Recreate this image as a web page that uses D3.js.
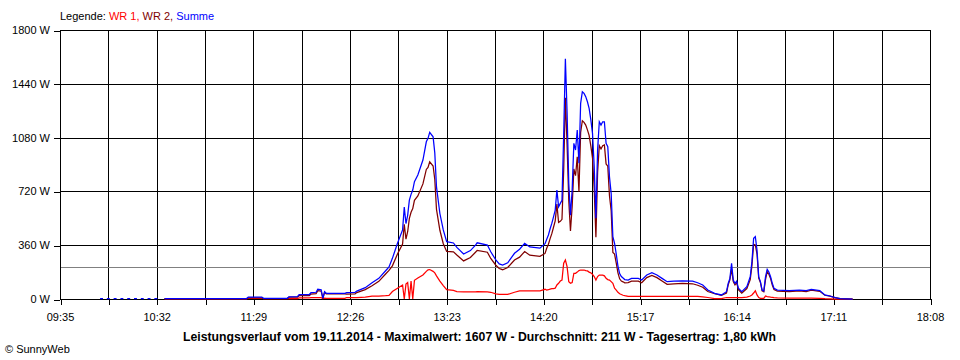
<!DOCTYPE html>
<html><head><meta charset="utf-8">
<script src="https://cdn.jsdelivr.net/npm/d3@7"></script>
<style>
body{margin:0;background:#fff}
svg{display:block}
text{font-family:"Liberation Sans",Arial,sans-serif}
</style>
</head><body>
<svg id="c" width="960" height="360"></svg>
<script>
// ---- data ----
const zeit = [
  "09:59","10:00","10:01","10:03","10:04","10:05","10:07","10:08","10:09","10:11","10:12","10:13","10:15","10:16","10:17","10:19","10:20","10:21","10:23","10:24","10:25","10:27","10:28","10:29","10:31","10:32","10:33",
  "10:37","11:25","11:26","11:34","11:35","11:49","11:50","11:55","11:56","12:02","12:03","12:06","12:07","12:09","12:10","12:11","12:12","12:23","12:24","12:29","12:30","12:35","12:39","12:43","12:47","12:49",
  "12:51","12:54","12:57","12:58","12:59","13:00","13:01","13:02","13:03","13:04","13:06","13:09","13:11","13:12","13:13","13:15","13:16","13:17","13:19","13:21","13:23",
  "13:27","13:29","13:33","13:37","13:40","13:41","13:47","13:49","13:52","13:54","13:56","13:59","14:03","14:06","14:09","14:12","14:18",
  "14:21","14:22","14:23","14:24","14:25","14:26","14:27","14:28","14:29","14:30","14:31","14:32","14:33","14:34","14:35","14:36","14:37","14:38","14:39","14:40","14:41","14:42","14:43","14:44","14:45","14:46","14:47","14:48","14:49","14:50","14:51","14:52","14:53","14:54","14:55","14:56","14:57","14:58","14:59","15:00","15:01","15:02","15:03","15:04","15:05","15:06","15:07","15:08","15:10",
  "15:12","15:16","15:18","15:21","15:24","15:27","15:30","15:33","15:37","15:42","15:48","15:51","15:54","15:57","16:01","16:05","16:08","16:09","16:10","16:11","16:12","16:13","16:14","16:15","16:17","16:20","16:22","16:23","16:24","16:25","16:26","16:27","16:28","16:29","16:30","16:31","16:32","16:33","16:34","16:35","16:36","16:38","16:45","16:51","16:55","16:58","17:03","17:06","17:09","17:12","17:15","17:22"
];
const summe = [
  3,3,null,3,3,null,3,3,null,3,3,null,3,3,null,3,3,null,3,3,null,3,3,null,3,3,null,
  3,3,13,13,5,5,15,16,29,30,42,45,65,62,5,49,38,38,42,45,53,76,109,138,189,215,
  272,373,462,615,505,560,662,700,729,785,830,930,1052,1075,1115,1085,977,750,572,462,384,
  375,345,301,324,361,376,361,316,261,235,227,242,306,333,373,348,340,
  370,400,428,470,506,550,595,729,617,640,660,1100,1607,1250,774,560,729,1042,997,1131,908,1309,1387,1376,1354,1320,1275,1200,1108,886,540,997,1186,1164,1186,1186,1042,1019,818,707,417,373,300,220,170,150,140,130,127,
  138,138,127,161,176,161,138,116,120,122,120,109,94,60,38,27,49,105,138,239,127,105,120,72,49,82,149,250,406,417,328,149,116,60,54,149,199,181,149,105,72,60,56,60,56,65,56,27,20,9,3,0
];
const wr2 = [
  null,null,null,null,null,null,null,null,null,null,null,null,null,null,null,null,null,null,null,null,null,null,null,null,null,null,null,
  2,2,8,8,3,3,12,13,22,22,33,36,56,53,3,44,34,34,32,35,43,63,89,118,167,191,
  222,301,368,500,400,450,540,580,605,660,690,770,867,880,918,890,800,600,460,370,318,
  316,295,255,278,313,325,313,271,226,204,196,211,261,280,318,293,285,
  305,340,366,404,437,480,523,635,512,520,533,861,1346,1034,658,455,619,870,825,951,718,1115,1193,1182,1164,1132,1095,1025,943,736,413,847,1026,1004,1026,1031,904,889,691,591,312,301,240,175,135,120,115,108,110,
  120,120,109,143,158,143,120,98,102,104,102,92,79,50,35,25,39,95,128,200,117,95,110,62,39,70,130,223,366,362,301,139,111,55,49,129,183,166,137,94,63,53,50,54,50,59,51,25,19,9,3,0
];
const wr1 = [
  null,null,null,null,null,null,null,null,null,null,null,null,null,null,null,null,null,null,null,null,null,null,null,null,null,null,null,
  1,1,5,5,2,2,3,3,7,8,9,9,9,9,2,5,4,4,10,10,10,13,20,20,22,24,
  50,72,94,0,100,110,0,120,0,125,140,161,185,195,197,185,175,155,120,90,62,
  57,50,48,48,48,50,48,45,35,31,31,31,45,55,55,55,55,
  65,60,62,66,69,70,72,94,105,120,127,239,261,216,116,105,110,172,172,180,190,194,194,194,190,188,180,175,165,150,127,150,160,160,160,155,138,130,127,116,105,72,60,45,35,30,25,22,17,
  18,18,18,18,18,18,18,18,18,18,18,17,15,10,3,2,10,10,10,10,10,10,10,10,10,12,20,27,40,55,27,10,5,5,5,20,16,15,12,11,9,7,6,6,6,6,5,2,1,0,0,0
];
const yTicks = [0, 360, 720, 1080, 1440, 1800];
const xLabels = ["09:35","10:32","11:29","12:26","13:23","14:20","15:17","16:14","17:11","18:08"];
const durchschnitt = 211;
const legendeNamen = ["WR 1", "WR 2", "Summe"];
const titel = "Leistungsverlauf vom 19.11.2014 - Maximalwert: 1607 W - Durchschnitt: 211 W - Tagesertrag: 1,80 kWh";
const copyright = "\u00A9 SunnyWeb";

// ---- drawing ----
const farben = ["#ff0000", "#800000", "#0000ff"];
const parseZeit = s => { const [h, m] = s.split(":").map(Number); return new Date(2014, 10, 19, h, m); };
const svg = d3.select("#c");
const t0 = parseZeit(xLabels[0]), t1 = parseZeit(xLabels[xLabels.length - 1]);
const x = d3.scaleTime().domain([t0, t1]).range([60, 930]);
const y = d3.scaleLinear().domain([0, 1800]).range([299, 30]);
const nSub = (xLabels.length - 1) * 2;
const gridTimes = d3.range(nSub + 1).map(i => new Date(+t0 + i * (t1 - t0) / nSub));

const grid = svg.append("g").attr("shape-rendering", "crispEdges");
grid.selectAll("line.v").data(gridTimes).join("line")
  .attr("x1", d => Math.round(x(d)) + 0.5).attr("x2", d => Math.round(x(d)) + 0.5)
  .attr("y1", y(1800)).attr("y2", y(0)).attr("stroke", "#000");
grid.selectAll("line.h").data(yTicks).join("line")
  .attr("x1", 60).attr("x2", 931)
  .attr("y1", d => Math.round(y(d)) + 0.5).attr("y2", d => Math.round(y(d)) + 0.5)
  .attr("stroke", "#000");
grid.append("line")
  .attr("x1", 61).attr("x2", 930)
  .attr("y1", Math.round(y(durchschnitt)) + 0.5).attr("y2", Math.round(y(durchschnitt)) + 0.5)
  .attr("stroke", "#808080");

const xAxis = d3.axisBottom(x).tickValues(gridTimes).tickSize(6).tickPadding(8)
  .tickFormat((d, i) => i % 2 === 0 ? xLabels[i / 2] : "");
const gx = svg.append("g").attr("transform", "translate(0,299)").call(xAxis);
gx.select(".domain").remove();
gx.selectAll("line").attr("stroke", "#000").attr("shape-rendering", "crispEdges")
  .attr("transform", "translate(0.5,0)");
gx.selectAll("text").attr("font-size", 11).attr("font-family", "Liberation Sans, Arial, sans-serif").attr("fill", "#000");

const yAxis = d3.axisLeft(y).tickValues(yTicks).tickSize(6).tickPadding(4).tickFormat(d => d + " W");
const gy = svg.append("g").attr("transform", "translate(60,0)").call(yAxis);
gy.select(".domain").remove();
gy.selectAll("line").attr("stroke", "#000").attr("shape-rendering", "crispEdges")
  .attr("transform", "translate(0,0.5)");
gy.selectAll("text").attr("font-size", 11).attr("font-family", "Liberation Sans, Arial, sans-serif").attr("fill", "#000");

const serien = [wr1, wr2, summe];
const line = d3.line()
  .defined(d => d.v != null)
  .x(d => x(d.t)).y(d => y(d.v));
serien.forEach((s, k) => {
  const pts = zeit.map((z, i) => ({ t: parseZeit(z), v: s[i] }));
  svg.append("path").datum(pts)
    .attr("d", line).attr("fill", "none")
    .attr("stroke", farben[k]).attr("stroke-width", 1.25)
    .attr("stroke-linejoin", "miter").attr("stroke-linecap", "square");
});

const leg = svg.append("text").attr("x", 60).attr("y", 20).attr("font-size", 11);
leg.append("tspan").attr("fill", "#000").text("Legende: ");
legendeNamen.forEach((n, i) => {
  leg.append("tspan").attr("fill", farben[i]).text(n + (i < legendeNamen.length - 1 ? ", " : ""));
});

svg.append("text").attr("x", 479.5).attr("y", 341).attr("text-anchor", "middle")
  .attr("font-size", 12.5).attr("font-weight", "bold").attr("fill", "#000")
  .attr("textLength", 593).attr("lengthAdjust", "spacingAndGlyphs")
  .text(titel);

svg.append("text").attr("x", 5).attr("y", 353).attr("font-size", 11).attr("fill", "#000")
  .text(copyright);
</script>
</body></html>
